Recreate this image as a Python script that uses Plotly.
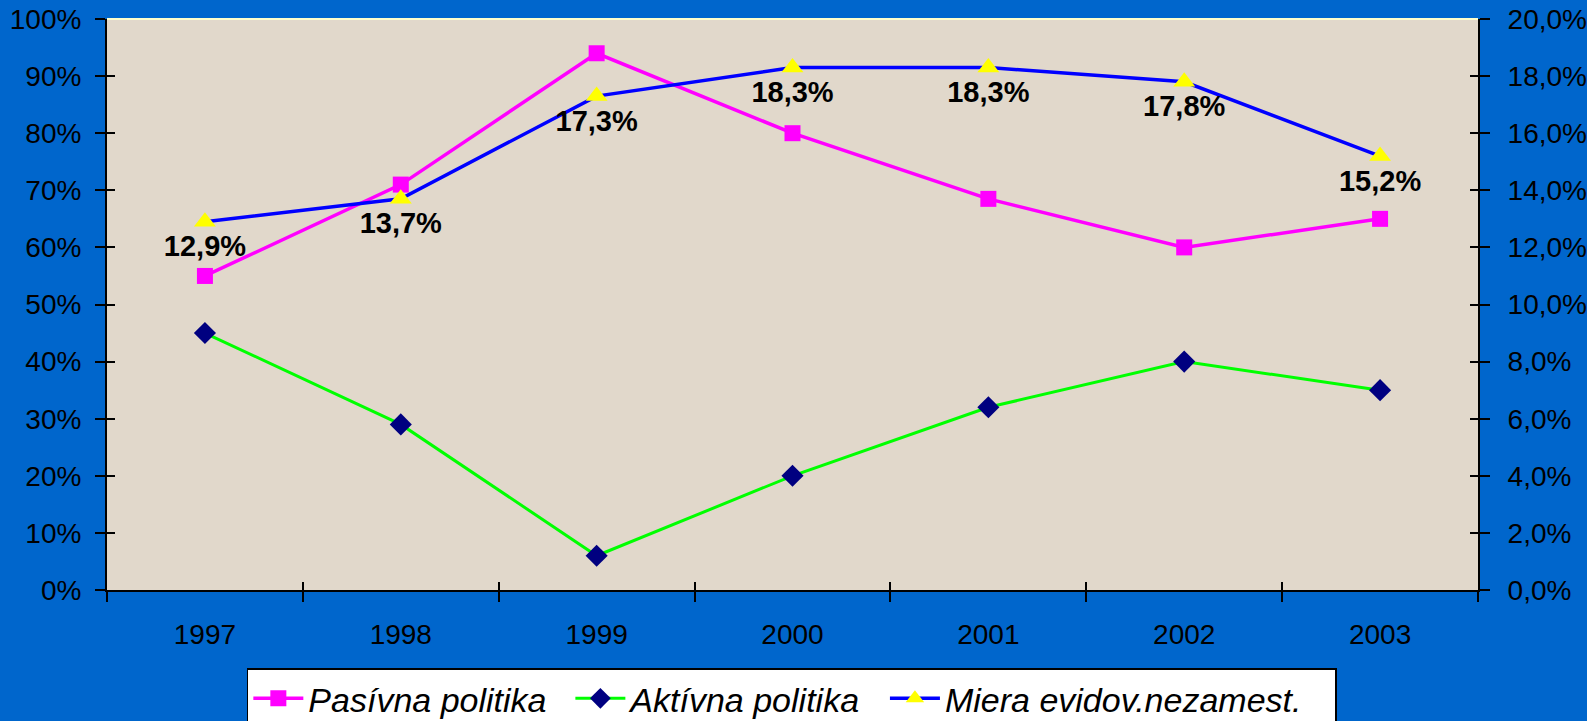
import plotly.graph_objects as go

years = ["1997", "1998", "1999", "2000", "2001", "2002", "2003"]
pasivna = [0.55, 0.71, 0.94, 0.80, 0.685, 0.60, 0.65]
aktivna = [0.45, 0.29, 0.06, 0.20, 0.32, 0.40, 0.35]
miera = [0.129, 0.137, 0.173, 0.183, 0.183, 0.178, 0.152]
miera_labels = ["12,9%", "13,7%", "17,3%", "18,3%", "18,3%", "17,8%", "15,2%"]
series_names = ["Pasívna politika", "Aktívna politika", "Miera evidov.nezamest."]

BLUE_BG = "#0066CC"
PLOT_BG = "#E1D8CB"
FONT = "Liberation Sans, Arial, sans-serif"
NB = "\u00a0"

fig = go.Figure()
fig.add_trace(go.Scatter(
    x=years, y=pasivna, name=series_names[0] + NB * 2, mode="lines+markers",
    line=dict(color="#FF00FF", width=3.5),
    marker=dict(symbol="square", size=16, color="#FF00FF"),
))
fig.add_trace(go.Scatter(
    x=years, y=aktivna, name=series_names[1] + NB * 2, mode="lines+markers",
    line=dict(color="#00FF00", width=3),
    marker=dict(symbol="diamond", size=17, color="#000080"),
))
fig.add_trace(go.Scatter(
    x=years, y=miera, name=series_names[2] + NB * 3, mode="lines+markers+text",
    yaxis="y2",
    line=dict(color="#0000FF", width=3.5),
    marker=dict(symbol="triangle-up", size=19, color="#FFFF00"),
    text=miera_labels, textposition="bottom center",
    textfont=dict(family=FONT, size=29, color="black", weight="bold"),
))

# invisible helper traces so the inner-tick overlay axes are drawn
fig.add_trace(go.Scatter(x=[0], y=[0], xaxis="x2", yaxis="y3", mode="markers",
                         marker=dict(opacity=0), showlegend=False, hoverinfo="skip"))
fig.add_trace(go.Scatter(x=[0], y=[0], xaxis="x2", yaxis="y4", mode="markers",
                         marker=dict(opacity=0), showlegend=False, hoverinfo="skip"))

axis_font = dict(family=FONT, size=28, color="black")

inner = dict(showline=False, ticks="inside", ticklen=8, tickwidth=2, tickcolor="black",
             showgrid=False, zeroline=False, showticklabels=False, automargin=False)

fig.update_layout(
    width=1587, height=721,
    paper_bgcolor=BLUE_BG, plot_bgcolor=PLOT_BG,
    margin=dict(l=107, r=109, t=19, b=131, autoexpand=False),
    font=axis_font,
    showlegend=True,
    legend=dict(
        orientation="h", x=0.102, y=-0.137, xanchor="left", yanchor="top",
        bgcolor="white", bordercolor="black", borderwidth=1.5,
        font=dict(family=FONT, size=34, color="black", style="italic"),
        itemwidth=50, tracegroupgap=0,
    ),
    xaxis=dict(
        type="category", tickson="boundaries", range=[-0.5, 6.5],
        showline=True, linecolor="black", linewidth=2,
        ticks="outside", ticklen=10, tickwidth=2, tickcolor="black",
        showgrid=False, zeroline=False, tickfont=axis_font,
        ticklabelstandoff=18, automargin=False,
    ),
    xaxis2=dict(range=[-0.5, 6.5], overlaying="x", tickvals=[-0.5 + i for i in range(8)], **inner),
    yaxis=dict(
        range=[0, 1], dtick=0.1, tickformat=".0%",
        showline=True, linecolor="black", linewidth=2,
        ticks="outside", ticklen=10, tickwidth=2, tickcolor="black",
        showgrid=False, zeroline=False, tickfont=axis_font,
        ticklabelstandoff=8, automargin=False,
    ),
    yaxis2=dict(
        range=[0, 0.2], dtick=0.02, tickformat=".1%", overlaying="y", side="right",
        showline=True, linecolor="black", linewidth=2,
        ticks="outside", ticklen=10, tickwidth=2, tickcolor="black",
        showgrid=False, zeroline=False, tickfont=axis_font,
        ticklabelstandoff=12, automargin=False,
    ),
    yaxis3=dict(range=[0, 1], dtick=0.1, overlaying="y", side="left", **inner),
    yaxis4=dict(range=[0, 0.2], dtick=0.02, overlaying="y", side="right", **inner),
    separators=",.",
    shapes=[dict(type="line", xref="paper", yref="paper", x0=0, x1=1, y0=1, y1=1,
                 line=dict(color="#FFFFCC", width=2))],
)

fig.write_html("out.html", config={"displayModeBar": False},
               post_script="document.body.style.margin='0';document.body.style.overflow='hidden';")
